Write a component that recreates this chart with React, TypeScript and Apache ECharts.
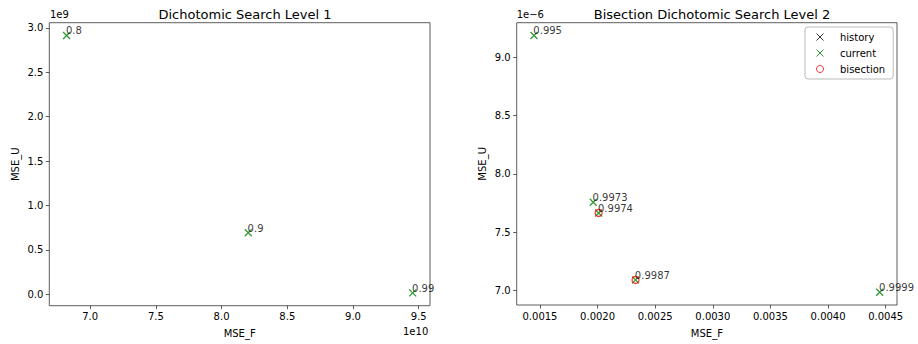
import React, { useEffect, useRef } from "react";
import * as echarts from "echarts";

// ---- Data ----
const leftLabels = ["0.8", "0.9", "0.99"];
const leftMseF = [6.821e10, 8.203e10, 9.454e10];
const leftMseU = [2.913e9, 0.691e9, 0.015e9];
const leftXTicks = [7.0e10, 7.5e10, 8.0e10, 8.5e10, 9.0e10, 9.5e10];
const leftYTicks = [0, 0.5e9, 1.0e9, 1.5e9, 2.0e9, 2.5e9, 3.0e9];

const rightLabels = ["0.995", "0.9973", "0.9974", "0.9987", "0.9999"];
const rightMseF = [0.001448, 0.001962, 0.002009, 0.002329, 0.004448];
const rightMseU = [9.185e-6, 7.756e-6, 7.665e-6, 7.091e-6, 6.986e-6];
const historyF: number[] = [];
const historyU: number[] = [];
const bisectionF = [0.002009, 0.002329];
const bisectionU = [7.665e-6, 7.091e-6];
const rightXTicks = [0.0015, 0.002, 0.0025, 0.003, 0.0035, 0.004, 0.0045];
const rightYTicks = [7.0e-6, 7.5e-6, 8.0e-6, 8.5e-6, 9.0e-6];

const FONT = "DejaVu Sans";
const XSYM = "path://M0,0L10,10M10,0L0,10";
const SYM = 7;

function range(vals: number[]) {
  const mn = Math.min(...vals);
  const mx = Math.max(...vals);
  const pad = (mx - mn) * 0.05;
  return [mn - pad, mx + pad];
}

function zip(a: number[], b: number[], labels?: string[]) {
  return a.map((v, i) => (labels ? { value: [v, b[i]], name: labels[i] } : [v, b[i]]));
}

export default function App() {
  const ref = useRef<HTMLDivElement>(null);
  useEffect(() => {
    if (!ref.current) return;
    const chart = echarts.init(ref.current, null, { renderer: "svg" });
    const lx = range(leftMseF);
    const ly = range(leftMseU);
    const rx = range(rightMseF);
    const ry = range(rightMseU);

    const axisCommon = {
      type: "value" as const,
      splitLine: { show: false },
      axisLine: { show: false, onZero: false },
      axisTick: { show: true, inside: false, length: 3.5, lineStyle: { color: "#333", width: 0.8 } },
    };
    const txt = { fontFamily: FONT, fontSize: 10, color: "#000" };
    const xSer = (color: string) => ({
      type: "scatter" as const,
      symbol: XSYM,
      symbolSize: SYM,
      itemStyle: { color: "transparent", borderColor: color, borderWidth: 1.3 },
    });
    const labelCfg = {
      show: true,
      position: [SYM / 2, SYM / 2 + 1],
      align: "left",
      verticalAlign: "bottom",
      formatter: (p: any) => p.name,
      ...txt,
    };

    chart.setOption({
      animation: false,
      textStyle: { fontFamily: FONT },
      title: [
        { text: "Dichotomic Search Level 1", left: 240, top: 3, textAlign: "center", textStyle: { fontFamily: FONT, fontSize: 13, fontWeight: "normal", color: "#000" } },
        { text: "Bisection Dichotomic Search Level 2", left: 707, top: 3, textAlign: "center", textStyle: { fontFamily: FONT, fontSize: 13, fontWeight: "normal", color: "#000" } },
      ],
      grid: [
        { left: 49.3, right: 488, top: 22.7, bottom: 38.3, show: true, borderColor: "#333", borderWidth: 0.8, backgroundColor: "#fff" },
        { left: 516.7, right: 21, top: 22.7, bottom: 39, show: true, borderColor: "#333", borderWidth: 0.8, backgroundColor: "#fff" },
      ],
      xAxis: [
        {
          ...axisCommon, gridIndex: 0, min: lx[0], max: lx[1],
          axisTick: { ...axisCommon.axisTick, customValues: leftXTicks },
          axisLabel: { ...txt, margin: 6, customValues: leftXTicks, formatter: (v: number) => (v / 1e10).toFixed(1) },
          name: "MSE_F", nameLocation: "middle", nameGap: 23, nameTextStyle: txt,
        },
        {
          ...axisCommon, gridIndex: 1, min: rx[0], max: rx[1],
          axisTick: { ...axisCommon.axisTick, customValues: rightXTicks },
          axisLabel: { ...txt, margin: 6, customValues: rightXTicks, formatter: (v: number) => v.toFixed(4) },
          name: "MSE_F", nameLocation: "middle", nameGap: 23, nameTextStyle: txt,
        },
      ],
      yAxis: [
        {
          ...axisCommon, gridIndex: 0, min: ly[0], max: ly[1],
          axisTick: { ...axisCommon.axisTick, customValues: leftYTicks },
          axisLabel: { ...txt, margin: 6, customValues: leftYTicks, formatter: (v: number) => (v / 1e9).toFixed(1) },
          name: "MSE_U", nameLocation: "middle", nameGap: 29, nameTextStyle: txt,
        },
        {
          ...axisCommon, gridIndex: 1, min: ry[0], max: ry[1],
          axisTick: { ...axisCommon.axisTick, customValues: rightYTicks },
          axisLabel: { ...txt, margin: 6, customValues: rightYTicks, formatter: (v: number) => (v / 1e-6).toFixed(1) },
          name: "MSE_U", nameLocation: "middle", nameGap: 29, nameTextStyle: txt,
        },
      ],
      legend: {
        data: [
          { name: "history", icon: XSYM, itemStyle: { color: "transparent", borderColor: "black", borderWidth: 1 } },
          { name: "current", icon: XSYM, itemStyle: { color: "transparent", borderColor: "green", borderWidth: 1 } },
          { name: "bisection", icon: "circle", itemStyle: { color: "transparent", borderColor: "red", borderWidth: 1 } },
        ],
        orient: "vertical",
        left: 805,
        top: 27,
        padding: [5, 8, 5, 11],
        itemWidth: 30,
        itemHeight: 7,
        itemGap: 6,
        backgroundColor: "#fff",
        borderColor: "#bbbbbb",
        borderWidth: 1,
        borderRadius: 3,
        textStyle: { ...txt, padding: [0, 0, 0, 0] },
      },
      series: [
        { ...xSer("green"), name: "current1", xAxisIndex: 0, yAxisIndex: 0, data: zip(leftMseF, leftMseU, leftLabels), label: labelCfg },
        { ...xSer("black"), name: "history", xAxisIndex: 1, yAxisIndex: 1, data: zip(historyF, historyU) },
        { ...xSer("green"), name: "current", xAxisIndex: 1, yAxisIndex: 1, data: zip(rightMseF, rightMseU, rightLabels), label: labelCfg },
        {
          type: "scatter", name: "bisection", xAxisIndex: 1, yAxisIndex: 1, symbol: "circle", symbolSize: SYM,
          itemStyle: { color: "transparent", borderColor: "red", borderWidth: 1.2 },
          data: zip(bisectionF, bisectionU),
        },
      ],
      graphic: [
        { type: "text", left: 50, top: 9, style: { text: "1e9", font: `10px "${FONT}"`, fill: "#000" } },
        { type: "text", left: 403, top: 326, style: { text: "1e10", font: `10px "${FONT}"`, fill: "#000" } },
        { type: "text", left: 516.7, top: 9, style: { text: "1e\u22126", font: `10px "${FONT}"`, fill: "#000" } },
      ],
    });
    return () => chart.dispose();
  }, []);
  return <div ref={ref} style={{ position: "fixed", left: 0, top: 0, width: 918, height: 344, background: "#fff" }} />;
}
